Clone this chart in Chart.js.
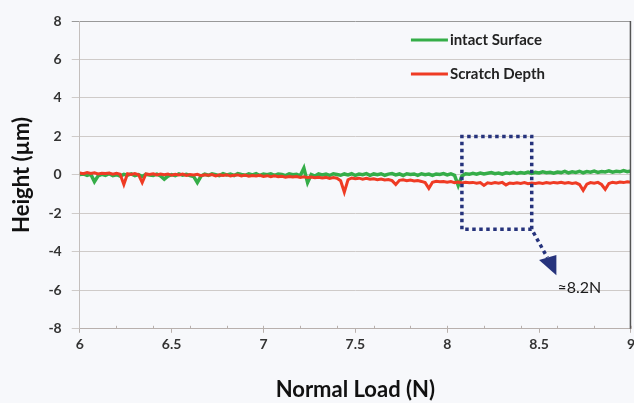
<!DOCTYPE html>
<html lang="en">
<head>
    <meta charset="UTF-8">
    <title>Height vs Normal Load</title>
    <script src="https://cdn.jsdelivr.net/npm/chart.js"></script>
    <style>
        body { margin: 0; background: #f7f8fb; overflow: hidden; }
        .box { width: 638px; height: 403px; position: relative; }
    </style>
</head>
<body>
    <div class="box">
        <canvas id="myChart"></canvas>
    </div>
</body>
</html>

<script>
// load axis: 6 N to 9 N, one reading every 0.02 N
const loadStart = 6;
const loadStep = 0.02;

const intactSurface = [
    0.02, 0.05, -0.03, 0.04, -0.35, -0.05, 0.03, -0.02, 0.06, -0.04,
    0.01, -0.06, 0.03, -0.02, 0.05, -0.04, 0.02, -0.08, 0.03, 0.00,
    -0.03, 0.04, -0.05, -0.22, -0.06, 0.02, -0.04, 0.05, -0.02, 0.03,
    -0.03, -0.08, -0.40, -0.06, 0.04, -0.02, 0.05, 0.01, -0.04, 0.06,
    0.00, 0.04, -0.03, 0.07, 0.02, -0.02, 0.05, 0.00, 0.06, -0.03,
    0.04, 0.01, 0.06, -0.02, 0.05, 0.02, -0.04, 0.06, 0.01, 0.03,
    -0.05, 0.35, -0.40, 0.02, -0.06, 0.05, 0.00, 0.04, -0.03, 0.06,
    0.02, -0.02, 0.05, 0.00, 0.06, -0.03, 0.04, 0.01, 0.07, -0.02,
    0.05, 0.01, 0.06, -0.02, 0.04, 0.07, 0.00, 0.05, -0.03, 0.06,
    0.02, 0.05, -0.02, 0.06, 0.01, 0.04, -0.03, 0.05, 0.02, 0.07,
    0.00, 0.06, -0.02, -0.55, -0.05, 0.06, 0.03, 0.08, 0.04, 0.10,
    0.05, 0.09, 0.12, 0.06, 0.10, 0.04, 0.11, 0.08, 0.13, 0.07,
    0.12, 0.09, 0.15, 0.08, 0.13, 0.10, 0.16, 0.11, 0.14, 0.09,
    0.15, 0.12, 0.18, 0.10, 0.16, 0.13, 0.19, 0.11, 0.17, 0.14,
    0.20, 0.13, 0.18, 0.15, 0.21, 0.14, 0.19, 0.16, 0.22, 0.17,
    0.20
];

const scratchDepth = [
    0.10, 0.06, 0.12, 0.08, 0.11, 0.05, 0.09, 0.07, 0.10, 0.04,
    0.08, 0.03, -0.50, 0.06, 0.02, 0.07, 0.01, -0.40, 0.05, 0.02,
    0.06, 0.00, 0.04, 0.01, 0.05, -0.02, 0.03, 0.00, 0.04, -0.03,
    0.02, -0.01, 0.03, -0.04, 0.01, -0.02, 0.02, -0.05, 0.00, -0.03,
    0.01, -0.06, -0.02, 0.00, -0.05, -0.01, -0.07, -0.03, -0.06, -0.02,
    -0.08, -0.04, -0.09, -0.05, -0.10, -0.07, -0.12, -0.08, -0.11, -0.09,
    -0.13, -0.10, -0.14, -0.11, -0.15, -0.12, -0.16, -0.13, -0.18, -0.14,
    -0.17, -0.30, -0.90, -0.25, -0.16, -0.20, -0.17, -0.22, -0.18, -0.23,
    -0.20, -0.25, -0.21, -0.26, -0.24, -0.30, -0.50, -0.28, -0.25, -0.30,
    -0.27, -0.32, -0.29, -0.34, -0.40, -0.70, -0.38, -0.33, -0.36, -0.34,
    -0.38, -0.35, -0.40, -0.37, -0.42, -0.38, -0.41, -0.39, -0.43, -0.40,
    -0.55, -0.41, -0.44, -0.40, -0.43, -0.39, -0.52, -0.42, -0.45, -0.41,
    -0.44, -0.40, -0.46, -0.42, -0.45, -0.41, -0.44, -0.40, -0.43, -0.39,
    -0.42, -0.38, -0.43, -0.40, -0.44, -0.41, -0.50, -0.80, -0.48, -0.40,
    -0.43, -0.39, -0.50, -0.75, -0.45, -0.38, -0.42, -0.37, -0.40, -0.36,
    -0.38
];

const xTicks = [6, 6.5, 7, 7.5, 8, 8.5, 9];
const yTicks = [-8, -6, -4, -2, 0, 2, 4, 6, 8];

// dotted box + arrow around the 8.2 N region (data units)
const boxX = [8.08, 8.46];
const boxY = [2.0, -2.83];
const arrowTo = [8.545, -4.3];
const arrowHead = [[8.50, -4.43], [8.594, -4.17], [8.594, -5.21]];
const noteText = '≈8.2N';
const notePos = [8.60, -5.86];

const toPoints = arr => arr.map((v, i) => ({ x: +(loadStart + i * loadStep).toFixed(2), y: v }));

const boxPlugin = {
    id: 'boxPlugin',
    afterDraw(chart) {
        const ctx = chart.ctx;
        const x = chart.scales.x, y = chart.scales.y;
        const a = chart.chartArea;
        ctx.save();

        // right border
        ctx.strokeStyle = '#555';
        ctx.lineWidth = 1.5;
        ctx.beginPath();
        ctx.moveTo(a.right - 0.5, a.top);
        ctx.lineTo(a.right - 0.5, a.bottom);
        ctx.stroke();

        // small ticks every 0.2 N
        ctx.strokeStyle = '#b8b0ad';
        ctx.lineWidth = 1;
        for (let v = 6.2; v < 9; v += 0.2) {
            const px = Math.round(x.getPixelForValue(v)) + 0.5;
            ctx.beginPath();
            ctx.moveTo(px, a.bottom - 3);
            ctx.lineTo(px, a.bottom);
            ctx.stroke();
        }

        // legend
        const items = chart.data.datasets.slice().reverse();
        ctx.font = 'bold 15px Lato';
        ctx.textBaseline = 'middle';
        items.forEach((d, i) => {
            const ly = a.top + 19 + i * 34;
            ctx.strokeStyle = d.borderColor;
            ctx.lineWidth = 3;
            ctx.beginPath();
            ctx.moveTo(a.right - 220, ly);
            ctx.lineTo(a.right - 183, ly);
            ctx.stroke();
            ctx.fillStyle = '#222';
            ctx.fillText(d.label, a.right - 181, ly);
        });

        // dotted box
        const x0 = x.getPixelForValue(boxX[0]), x1 = x.getPixelForValue(boxX[1]);
        const y0 = y.getPixelForValue(boxY[0]), y1 = y.getPixelForValue(boxY[1]);
        ctx.strokeStyle = '#26337c';
        ctx.fillStyle = '#26337c';
        ctx.lineWidth = 3.5;
        ctx.setLineDash([3.5, 3.5]);
        ctx.beginPath();
        ctx.moveTo(x1, y1);
        ctx.lineTo(x0, y1);
        ctx.lineTo(x0, y0);
        ctx.lineTo(x1, y0);
        ctx.lineTo(x1, y1);
        ctx.lineTo(x.getPixelForValue(arrowTo[0]), y.getPixelForValue(arrowTo[1]));
        ctx.stroke();
        ctx.setLineDash([]);
        ctx.beginPath();
        arrowHead.forEach((p, i) => {
            const px = x.getPixelForValue(p[0]), py = y.getPixelForValue(p[1]);
            if (i === 0) ctx.moveTo(px, py); else ctx.lineTo(px, py);
        });
        ctx.closePath();
        ctx.fill();

        ctx.fillStyle = '#1a1a1a';
        ctx.font = '16px Lato';
        ctx.textAlign = 'left';
        ctx.fillText(noteText, x.getPixelForValue(notePos[0]), y.getPixelForValue(notePos[1]));
        ctx.restore();
    }
};

const data = {
    datasets: [{
        label: 'Scratch Depth',
        borderColor: '#ef3b24',
        backgroundColor: '#ef3b24',
        borderWidth: 3,
        pointRadius: 0,
        tension: 0,
        data: toPoints(scratchDepth)
    }, {
        label: 'intact Surface',
        borderColor: '#35ad48',
        backgroundColor: '#35ad48',
        borderWidth: 3.5,
        pointRadius: 0,
        tension: 0,
        data: toPoints(intactSurface)
    }]
};

const config = {
    type: 'line',
    data: data,
    options: {
        responsive: true,
        maintainAspectRatio: false,
        animation: false,
        layout: { padding: { top: 21, right: -7, left: 5, bottom: 0 } },
        plugins: {
            legend: { display: false },
            tooltip: { enabled: false }
        },
        scales: {
            x: {
                type: 'linear',
                min: 6,
                max: 9,
                afterBuildTicks: s => { s.ticks = xTicks.map(v => ({ value: v })); },
                ticks: {
                    color: '#333',
                    font: { family: 'Lato', size: 14, weight: 'bold' },
                    padding: 3,
                    maxRotation: 0,
                    callback: v => String(v)
                },
                grid: { drawOnChartArea: false, tickLength: 4, color: '#b8b0ad' },
                border: { color: '#b8b0ad' },
                title: {
                    display: true,
                    text: 'Normal Load (N)',
                    color: '#111',
                    font: { family: 'Lato', size: 22, weight: 'bold' },
                    padding: { top: 21, bottom: 0 }
                }
            },
            y: {
                min: -8,
                max: 8,
                afterBuildTicks: s => { s.ticks = yTicks.map(v => ({ value: v })); },
                ticks: {
                    color: '#333',
                    font: { family: 'Lato', size: 14, weight: 'bold' },
                    padding: 10
                },
                grid: {
                    color: c => c.tick && c.tick.value === 8 ? '#999' : '#cfcbc9',
                    tickLength: 8
                },
                border: { color: '#c4bfbd' },
                title: {
                    display: true,
                    text: 'Height (µm)',
                    color: '#111',
                    font: { family: 'Lato', size: 22, weight: 'bold' },
                    padding: { top: 4, bottom: 3 }
                }
            }
        }
    },
    plugins: [boxPlugin]
};

const myChart = new Chart(document.getElementById('myChart'), config);
</script>
